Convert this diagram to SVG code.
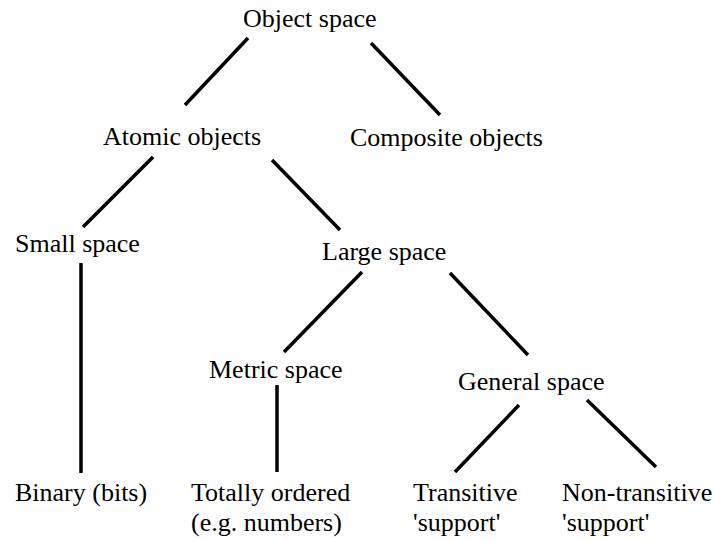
<svg xmlns="http://www.w3.org/2000/svg" width="715" height="541" viewBox="0 0 715 541">
<style>
text { font-family: "Liberation Serif", "Times New Roman", serif; font-size: 26px; fill: #000; }
.e line { stroke: #000; stroke-width: 3.5; stroke-linecap: butt; }
</style>
<rect width="715" height="541" fill="#fff"/>
<g class="e" id="connectors">
<line x1="248" y1="38" x2="185" y2="105"/>
<line x1="371" y1="43" x2="440" y2="115"/>
<line x1="153" y1="157" x2="83" y2="227"/>
<line x1="272" y1="160" x2="340" y2="230"/>
<line x1="81" y1="263" x2="81" y2="473"/>
<line x1="362" y1="272" x2="284" y2="352"/>
<line x1="450" y1="273" x2="528" y2="355"/>
<line x1="277" y1="385" x2="277" y2="472"/>
<line x1="519" y1="405" x2="455" y2="472"/>
<line x1="587" y1="400" x2="656" y2="467"/>
</g>
<g id="object-space"><text x="243" y="27">Object space</text></g>
<g id="atomic-objects"><text x="103" y="145">Atomic objects</text></g>
<g id="composite-objects"><text x="350" y="146">Composite objects</text></g>
<g id="small-space"><text x="15" y="252">Small space</text></g>
<g id="large-space"><text x="322" y="260">Large space</text></g>
<g id="metric-space"><text x="209" y="378">Metric space</text></g>
<g id="general-space"><text x="458" y="390">General space</text></g>
<g id="binary"><text x="15" y="501">Binary (bits)</text></g>
<g id="totally-ordered"><text x="191" y="501">Totally ordered</text><text x="191" y="531">(e.g. numbers)</text></g>
<g id="transitive"><text x="413" y="501">Transitive</text><text x="413" y="531">'support'</text></g>
<g id="non-transitive"><text x="562" y="501">Non-transitive</text><text x="562" y="531">'support'</text></g>
</svg>
